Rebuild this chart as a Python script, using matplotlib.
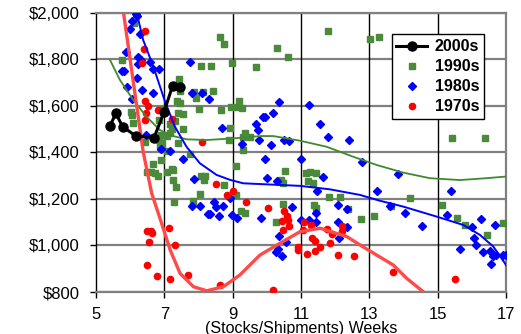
import matplotlib
matplotlib.use("Agg")
import matplotlib.pyplot as plt
from matplotlib.ticker import FuncFormatter

plt.rcParams['font.family'] = ['Liberation Sans', 'DejaVu Sans']

# ---- data: 2000s (connected line) ----
x2000 = [5.41, 5.58, 5.78, 6.17, 6.70, 6.99, 7.24, 7.46]
y2000 = [1513, 1568, 1510, 1470, 1463, 1573, 1685, 1680]

# ---- 1990s scatter ----
x1990 = [6.12, 5.77, 6.02, 6.04, 6.09, 6.42, 6.68, 6.89, 6.48, 6.60, 6.73, 6.81, 7.08, 7.25,
         7.25, 7.34, 7.29, 7.43, 7.46, 7.87, 8.12, 8.41, 7.93, 7.38, 7.46, 8.02, 7.56, 7.41,
         6.95, 6.85, 7.31, 7.17, 7.22, 7.54, 6.89, 7.09, 7.17, 6.85, 7.41, 6.92, 6.87, 6.92,
         7.07, 7.75, 7.22, 8.07, 8.36, 8.63, 8.76, 8.97, 9.68, 8.66, 8.95, 9.14, 9.28, 9.19,
         8.92, 8.90, 9.36, 9.31, 9.52, 9.29, 9.10, 8.07, 8.18, 8.17, 8.04, 7.84, 8.75, 9.11,
         9.24, 9.36, 10.29, 10.62, 11.78, 13.02, 13.27, 15.43, 16.40, 10.41, 10.47, 10.53,
         11.15, 11.26, 11.44, 11.21, 11.34, 11.83, 12.13, 10.47, 10.26, 11.38, 11.45, 12.39,
         12.77, 13.15, 13.63, 14.19, 15.12, 15.57, 15.79, 16.43, 16.90]
y1990 = [1955, 1795, 1575, 1560, 1525, 1445, 1350, 1365, 1315, 1315, 1310, 1300, 1315, 1325,
         1280, 1250, 1185, 1715, 1665, 1660, 1660, 1665, 1635, 1620, 1610, 1585, 1565, 1570,
         1585, 1540, 1535, 1520, 1500, 1500, 1475, 1470, 1485, 1455, 1440, 1440, 1425, 1415,
         1405, 1395, 1330, 1770, 1770, 1895, 1865, 1785, 1765, 1580, 1595, 1595, 1590, 1620,
         1505, 1455, 1485, 1465, 1465, 1410, 1340, 1300, 1300, 1280, 1220, 1190, 1260, 1215,
         1150, 1140, 1850, 1810, 1920, 1885, 1895, 1460, 1460, 1280, 1270, 1320,
         1310, 1315, 1310, 1275, 1270, 1210, 1210, 1180, 1100, 1175, 1160, 1155,
         1115, 1125, 1170, 1205, 1175, 1120, 1090, 1045, 1095]

# ---- 1980s scatter ----
x1980 = [6.17, 6.21, 6.04, 6.00, 6.29, 5.87, 6.22, 6.32, 6.58, 6.22, 5.75, 5.83, 6.68, 6.85,
         6.19, 5.90, 6.34, 6.68, 6.05, 6.45, 6.91, 7.17, 7.56, 7.76, 7.82, 8.09, 8.32, 8.70,
         9.28, 9.67, 9.75, 10.36, 11.23, 9.90, 9.96, 10.19, 11.56, 9.78, 10.13, 10.51, 10.66,
         11.78, 12.41, 9.96, 10.99, 12.78, 10.01, 10.31, 11.64, 11.46, 13.23, 7.87, 7.82, 8.04,
         8.28, 8.33, 8.45, 8.51, 8.73, 8.61, 8.92, 8.99, 9.14, 9.83, 10.74, 11.44, 12.09,
         12.34, 10.99, 11.24, 11.44, 12.09, 12.34, 10.36, 10.55, 12.10, 10.27, 10.34, 10.44,
         13.85, 15.39, 13.61, 14.04, 14.53, 15.28, 16.27, 16.00, 16.68, 16.07, 16.12, 15.65,
         16.34, 16.54, 16.61, 16.71, 16.57, 16.91, 17.00]
y1980 = [1995, 1985, 1965, 1930, 1910, 1830, 1810, 1795, 1790, 1780, 1750, 1750, 1760, 1760,
         1720, 1680, 1670, 1655, 1630, 1475, 1415, 1405, 1370, 1790, 1655, 1655, 1630, 1505,
         1435, 1520, 1495, 1615, 1605, 1550, 1550, 1570, 1520, 1455, 1430, 1455, 1450,
         1465, 1455, 1370, 1370, 1360, 1290, 1275, 1295, 1235, 1235, 1285, 1170, 1170,
         1135, 1135, 1185, 1165, 1170, 1125, 1205, 1130, 1120, 1120, 1165, 1140, 1175,
         1155, 1110, 1110, 1100, 1100, 1080, 1040, 1015, 1030, 970, 985, 955,
         1305, 1235, 1170, 1140, 1085, 1130, 1115, 1080, 1090, 1030, 1000, 985,
         970, 975, 955, 960, 920, 960, 960]

# ---- 1970s scatter ----
x1970 = [6.43, 6.40, 6.34, 6.43, 6.51, 6.45, 6.44, 6.81, 7.00, 7.22, 8.11, 8.50, 8.82, 9.00,
         9.38, 6.50, 6.60, 6.63, 7.15, 6.56, 7.31, 6.48, 6.78, 7.17, 7.69, 8.63, 10.17, 10.04,
         10.51, 10.58, 10.44, 10.61, 10.66, 10.48, 11.10, 11.29, 11.05, 11.75, 11.90, 12.21,
         12.21, 11.31, 11.41, 11.56, 10.92, 10.92, 11.17, 11.41, 11.85, 12.07, 12.56, 13.68, 15.51]
y1970 = [1920, 1845, 1785, 1620, 1600, 1570, 1540, 1580, 1575, 1545, 1445, 1265, 1215, 1235,
         1185, 1060, 1060, 1055, 1075, 1015, 1000, 915, 870, 855, 875, 830, 810, 1160,
         1150, 1125, 1105, 1110, 1085, 1065, 1100, 1090, 1065, 1070, 1050, 1085,
         1060, 1030, 1020, 995, 995, 980, 965, 975, 1010, 960, 955, 885, 855]

# ---- trend curves ----
fit1990_x = [5.41, 5.70, 6.09, 6.48, 6.87, 7.26, 7.65, 8.24, 9.02, 9.80, 10.19, 10.97, 11.75,
             12.53, 13.21, 13.99, 14.77, 15.65, 16.43, 17.0]
fit1990_y = [1797, 1711, 1625, 1553, 1496, 1470, 1456, 1453, 1460, 1470, 1470, 1450, 1424,
             1381, 1346, 1313, 1289, 1281, 1289, 1296]
fit1980_x = [6.19, 6.38, 6.68, 7.02, 7.31, 7.65, 8.04, 8.53, 8.92, 9.31, 10.38, 10.97, 11.85,
             12.73, 13.31, 13.99, 14.97, 15.75, 16.24, 16.63, 16.97, 17.0]
fit1980_y = [2000, 1883, 1768, 1618, 1510, 1424, 1353, 1303, 1282, 1267, 1260, 1256, 1241,
             1217, 1192, 1167, 1124, 1088, 1045, 995, 923, 915]
fit1970_x = [5.80, 6.10, 6.38, 6.63, 6.92, 7.17, 7.46, 7.85, 8.24, 8.73, 9.21, 9.80, 10.38,
             10.97, 11.56, 12.34, 12.73, 13.21, 13.70, 14.09, 14.58, 14.70]
fit1970_y = [2005, 1694, 1403, 1224, 1095, 981, 880, 823, 805, 823, 873, 959, 1009,
             1059, 1074, 1038, 1002, 959, 916, 859, 801, 785]

x_ticks = [5, 7, 9, 11, 13, 15, 17]
y_ticks = [800, 1000, 1200, 1400, 1600, 1800, 2000]
series_labels = ['2000s', '1990s', '1980s', '1970s']

fig = plt.figure(figsize=(5.21, 3.34), dpi=100)
ax = fig.add_axes([96/521, 1-292/334, 410/521, 279.3/334])

green = '#4a8a3a'
ax.plot(x1990, y1990, 's', color=green, ms=4.3, mec=green, zorder=3, label=series_labels[1])
ax.plot(x1980, y1980, 'D', color='#0000ff', ms=4.0, mec='#0000ff', zorder=3, label=series_labels[2])
ax.plot(x1970, y1970, 'o', color='#ff0000', ms=4.5, mec='#ff0000', zorder=3, label=series_labels[3])

ax.plot(fit1990_x, fit1990_y, '-', color='#3f8a2e', lw=1.3, zorder=4)
ax.plot(fit1980_x, fit1980_y, '-', color='#0000ff', lw=1.4, zorder=4)
ax.plot(fit1970_x, fit1970_y, '-', color='#ff4a4a', lw=2.4, zorder=4)

line2000, = ax.plot(x2000, y2000, '-o', color='black', lw=2.2, ms=6.5, zorder=5,
                    label=series_labels[0])

ax.set_xlim(5, 17)
ax.set_ylim(800, 2000)
ax.set_xticks(x_ticks)
ax.set_yticks(y_ticks)
ax.yaxis.set_major_formatter(FuncFormatter(lambda v, p: '${:,.0f}'.format(v)))

# grid: horizontal gray, vertical black
for yv in y_ticks:
    ax.axhline(yv, color='#808080', lw=1.6, zorder=1)
for xv in x_ticks[1:-1]:
    ax.axvline(xv, color='black', lw=1.0, zorder=1)

ax.spines['left'].set_color('black')
ax.spines['left'].set_linewidth(1.0)
for s in ['top', 'right', 'bottom']:
    ax.spines[s].set_color('#808080')
    ax.spines[s].set_linewidth(1.6)

ax.tick_params(axis='both', direction='out', length=4, width=1.0, color='black',
               labelsize=12, colors='black')
ax.tick_params(axis='y', pad=8)
ax.tick_params(axis='x', pad=7)

ax.set_xlabel('(Stocks/Shipments) Weeks', fontsize=11.5)
ax.xaxis.set_label_coords(0.5, -0.105)

handles = [line2000] + ax.get_lines()[0:3]
leg = ax.legend(handles=handles, labels=series_labels, loc='upper left',
                bbox_to_anchor=((391.7-96)/410, (292-34.3)/279.3),
                frameon=True, fancybox=False, edgecolor='black', framealpha=1,
                prop={'weight': 'bold', 'size': 11.5}, handlelength=1.9,
                handletextpad=0.5, borderpad=0.3, labelspacing=0.32,
                borderaxespad=0)
leg.get_frame().set_linewidth(1.0)
leg.set_zorder(10)

fig.savefig('out.png', dpi=100)
